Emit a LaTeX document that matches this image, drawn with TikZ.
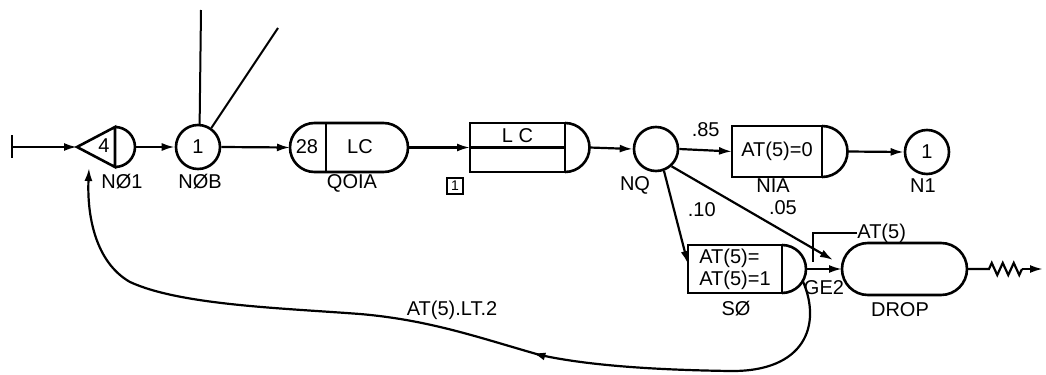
\documentclass[tikz,border=0pt]{standalone}
\usepackage{fontspec}
\setmainfont{Liberation Sans}
\usetikzlibrary{arrows.meta,calc,shapes.misc,decorations.pathmorphing,decorations.markings}
\tikzset{
 flow/.style={line width=1.1pt,-{Latex[length=6.5pt,width=4pt]}},
 midflow/.style={postaction={decorate},decoration={markings,mark=at position #1 with {\arrow{Latex[length=6.5pt,width=4pt]}}}},
 shapeline/.style={line width=1.3pt},
 thinline/.style={line width=.7pt},
 circnode/.style={circle,draw,line width=1.3pt,minimum size=22pt,inner sep=0},
 gatebox/.style={rectangle,draw,line width=1.3pt,inner sep=1pt,outer sep=0},
 stadium/.style={rounded rectangle,draw,line width=1.3pt,inner sep=0,outer sep=0},
 nodelabel/.style={inner sep=0},
 tagbox/.style={rectangle,draw,line width=.9pt,minimum size=8pt,inner sep=0,font=\fontsize{7}{8}\selectfont}
}
\begin{document}
\begin{tikzpicture}[x=.5pt,y=.5pt,font=\fontsize{10}{11}\selectfont]
\path[use as bounding box] (0,0) rectangle (1046,-375);
\coordinate (src) at (12,-147);
\draw[shapeline] ($(src)+(0,12)$) -- ($(src)+(0,-11)$);
\coordinate (no1-w) at (77,-147);
\coordinate (no1) at (115,-147);
\coordinate (no1-e) at ($(no1)+(20,0)$);
\coordinate (no1-in) at (89,-168);
\draw[shapeline] (no1-w) -- ($(no1)+(0,20)$) -- ($(no1)+(0,-20)$) -- cycle;
\draw[shapeline] ($(no1)+(0,20)$) arc[start angle=90,end angle=-90,radius=10pt];
\node[nodelabel] at (104,-146) {4};
\node[nodelabel] at (122,-182) {NØ1};
\draw[flow] (src) -- (no1-w);
\node[circnode] (nob) at (198,-147) {1};
\node[nodelabel] at (200,-182) {NØB};
\coordinate (up1) at (201,-10);
\coordinate (up2) at (278,-28);
\draw[line width=1pt] (nob.86) -- (up1);
\draw[line width=1pt] (nob.55) -- (up2);
\draw[flow] (no1-e) -- (nob.west);
\node[stadium,minimum width=59pt,minimum height=24.5pt] (qoia) at (349,-147.5) {};
\draw[shapeline] ([xshift=-11.5pt]qoia.north) -- ([xshift=-11.5pt]qoia.south);
\node[nodelabel] at (307,-147) {28};
\node[nodelabel] at (360,-147) {LC};
\node[nodelabel] at (352,-183) {QOIA};
\draw[flow] (nob.east) -- (qoia.west);
\node[gatebox,minimum width=47.5pt,minimum height=24.5pt] (lcq) at (517.5,-147.5) {};
\draw[shapeline] (lcq.west) -- (lcq.east);
\draw[shapeline] (lcq.north east) arc[start angle=90,end angle=-90,radius=12.25pt];
\coordinate (lcq-e) at ($(lcq.east)+(24.5,0)$);
\node[nodelabel] at ($(lcq.north)!.5!(lcq.center)$) {L C};
\node[tagbox] (tag1) at (455,-186) {1};
\draw[flow] (qoia.east) -- (lcq.west);
\node[circnode] (nq) at (656,-149) {};
\node[nodelabel] at (635,-185) {NQ};
\draw[flow] (lcq-e) -- (nq.west);
\node[gatebox,minimum width=45pt,minimum height=25.5pt] (nia) at (777,-151.5) {AT(5)=0};
\draw[shapeline] (nia.north east) arc[start angle=90,end angle=-90,radius=12.75pt];
\coordinate (nia-e) at ($(nia.east)+(25.5,0)$);
\node[nodelabel] at (773,-186) {NIA};
\draw[flow] (nq.east) -- (nia.west) node[midway,above=3pt] {.85};
\node[circnode] (n1) at (927,-152) {1};
\node[nodelabel] at (923,-186) {N1};
\draw[flow] (nia-e) -- (n1.west);
\node[gatebox,minimum width=47pt,minimum height=24pt,align=left] (so) at (735,-269) {AT(5)=\\AT(5)=1};
\draw[shapeline] (so.north east) arc[start angle=90,end angle=-90,radius=12pt];
\coordinate (so-e) at ($(so.east)+(24,0)$);
\coordinate (so-lo) at ($(so.east)+(-30:24)$);
\node[nodelabel] at (736,-309) {SØ};
\draw[flow] (nq.-70) -- ([yshift=2.5pt]so.west) node[pos=.42,right=3pt] {.10};
\node[stadium,minimum width=62.5pt,minimum height=26pt] (drop) at (904.5,-269) {};
\node[nodelabel] at (900,-310) {DROP};
\draw[flow] (nq.-48) -- ([xshift=-4.5pt,yshift=4.5pt]drop.west) node[pos=.69,above=4pt] {.05};
\draw[flow] (so-e) -- (drop.west) node[midway,below=2pt] {GE2};
\node[nodelabel,anchor=west] (at5) at (857,-233) {AT(5)};
\coordinate (at5-foot) at (813,-262);
\draw[thinline] (at5.west) -| (at5-foot);
\coordinate (zz-end) at (1022,-269);
\coordinate (sink) at (1043,-269);
\draw[line width=1.1pt,decorate,decoration={zigzag,amplitude=3pt,segment length=5.5pt,pre length=11pt,post length=0pt}] (drop.east) -- (zz-end);
\draw[flow] (zz-end) -- (sink);
\draw[line width=1.1pt,midflow=.39,-{Latex[length=6.5pt,width=4pt]}] (so-lo) .. controls (822,-325) and (805,-372) .. (730,-371) .. controls (660,-370) and (590,-366) .. (540,-355) .. controls (480,-338) and (430,-320) .. (360,-314) .. controls (280,-308) and (180,-305) .. (130,-282) .. controls (95,-262) and (87,-215) .. (no1-in);
\node[nodelabel] at (452,-310) {AT(5).LT.2};
\end{tikzpicture}
\end{document}
